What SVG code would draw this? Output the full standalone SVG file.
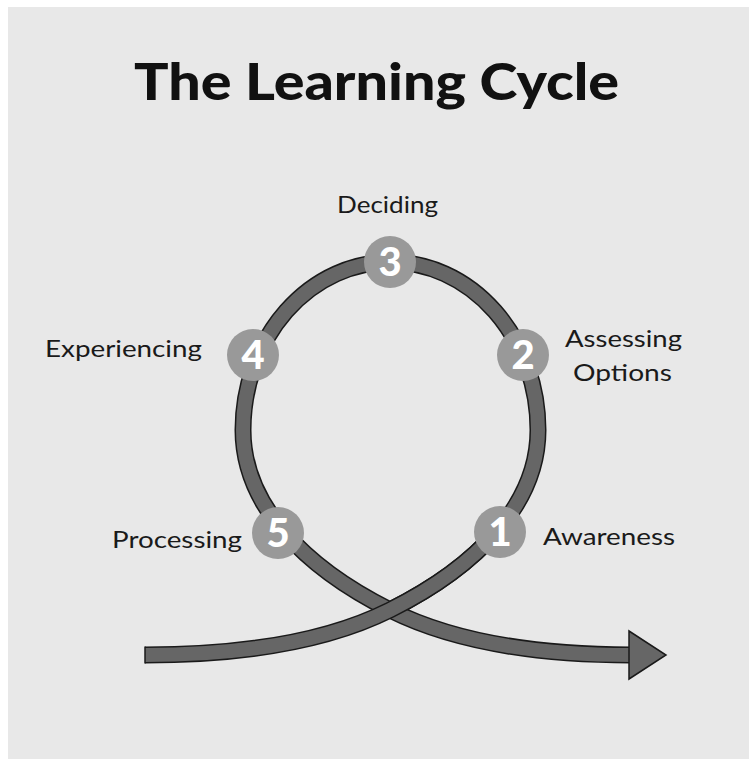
<svg xmlns="http://www.w3.org/2000/svg" width="749" height="759" viewBox="0 0 749 759">
<defs>
<style>
.bg{fill:#e8e8e8}
.title{font-family:Lato,"Open Sans","Liberation Sans",sans-serif;font-weight:900;font-size:52px;fill:#111}
.lbl{font-family:Lato,"Open Sans","Liberation Sans",sans-serif;font-size:23px;fill:#1a1a1a}
.num{font-family:Lato,"Open Sans","Liberation Sans",sans-serif;font-weight:900;font-size:40px;fill:#fff;text-anchor:middle}
.dot{fill:#999}
.edge{fill:none;stroke:#1a1a1a;stroke-width:17}
.core{fill:none;stroke:#666;stroke-width:14}
.head{fill:#666;stroke:#1a1a1a;stroke-width:1.5;stroke-linejoin:miter}
</style>
</defs>
<rect class="bg" x="8" y="7" width="741" height="752"/>
<text class="title" x="134" y="100" textLength="485" lengthAdjust="spacingAndGlyphs">The Learning Cycle</text>
<g id="connectors">
<path id="loop-under" class="edge" d="M390,610 C476,567 538,505 538,430 A147.5,168 0 0 0 243,430 C243,505 304,567 390,610 C450,640 530,655 631,655"/>
<path class="core" d="M390,610 C476,567 538,505 538,430 A147.5,168 0 0 0 243,430 C243,505 304,567 390,610 C450,640 530,655 631,655"/>
<path id="loop-over" class="edge" d="M145,655 C250,655 330,640 390,610 C433,588.5 470,562.25 496.25,532"/>
<path class="core" d="M145,655 C250,655 330,640 390,610 C433,588.5 470,562.25 496.25,532"/>
<line x1="145" y1="646.5" x2="145" y2="663.5" stroke="#1a1a1a" stroke-width="1.5"/>
<polygon class="head" points="629,631 666,655 629,679"/>
</g>
<g id="node1"><circle class="dot" cx="500" cy="532" r="26"/><text class="num" x="500" y="546">1</text><text class="lbl" x="543" y="545" textLength="132" lengthAdjust="spacingAndGlyphs">Awareness</text></g>
<g id="node2"><circle class="dot" cx="523" cy="355" r="26"/><text class="num" x="523" y="369">2</text><text class="lbl" x="565" y="347" textLength="117" lengthAdjust="spacingAndGlyphs">Assessing</text><text class="lbl" x="573" y="381" textLength="99" lengthAdjust="spacingAndGlyphs">Options</text></g>
<g id="node3"><circle class="dot" cx="390" cy="262" r="26"/><text class="num" x="390" y="276">3</text><text class="lbl" x="337" y="213" textLength="101" lengthAdjust="spacingAndGlyphs">Deciding</text></g>
<g id="node4"><circle class="dot" cx="253" cy="355" r="26"/><text class="num" x="253" y="369">4</text><text class="lbl" x="45" y="357" textLength="157" lengthAdjust="spacingAndGlyphs">Experiencing</text></g>
<g id="node5"><circle class="dot" cx="278" cy="533" r="26"/><text class="num" x="278" y="547">5</text><text class="lbl" x="112" y="548" textLength="130" lengthAdjust="spacingAndGlyphs">Processing</text></g>
</svg>
